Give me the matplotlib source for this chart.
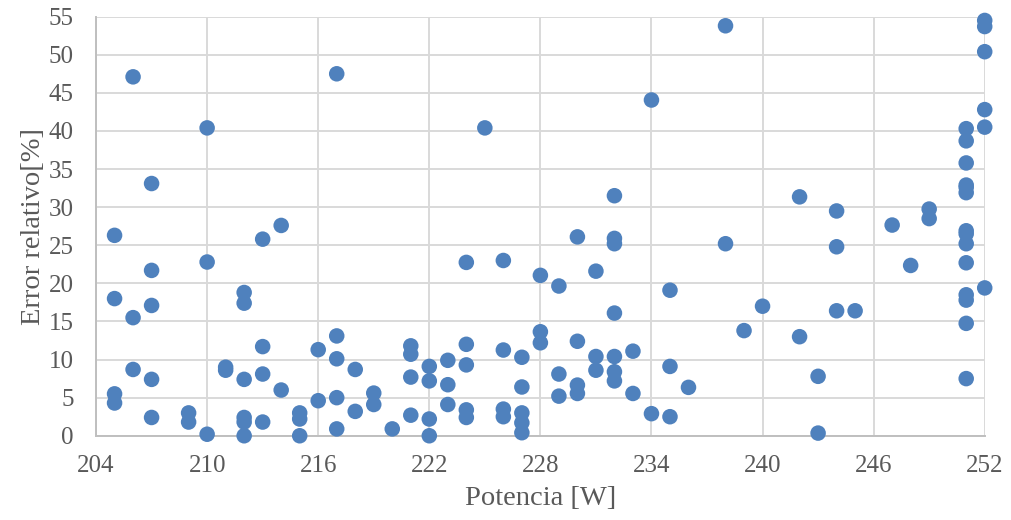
import matplotlib
matplotlib.use("Agg")
import matplotlib.pyplot as plt


# Power reading [W] and relative error [%] for each measurement
potencia = [
    205, 205, 205, 205, 206, 206, 206, 207, 207, 207, 207, 207,
    209, 209, 210, 210, 210, 211, 211, 212, 212, 212, 212, 212, 212,
    213, 213, 213, 213, 214, 214, 215, 215, 215,
    216, 216, 217, 217, 217, 217, 217, 218, 218, 219, 219, 220,
    221, 221, 221, 221, 222, 222, 222, 222, 223, 223, 223,
    224, 224, 224, 224, 224, 225, 226, 226, 226, 226,
    227, 227, 227, 227, 227, 228, 228, 228, 229, 229, 229,
    230, 230, 230, 230, 231, 231, 231, 232, 232, 232, 232, 232, 232, 232,
    233, 233, 234, 234, 235, 235, 235, 236, 238, 238, 239, 240,
    242, 242, 243, 243, 244, 244, 244, 245, 247, 248, 249, 249,
    251, 251, 251, 251, 251, 251, 251, 251, 251, 251, 251, 251, 251, 251,
    252, 252, 252, 252, 252, 252,
]
error_relativo = [
    26.3, 18.0, 5.5, 4.3, 47.1, 15.5, 8.7, 33.1, 21.7, 17.1, 7.4, 2.4,
    3.0, 1.8, 40.4, 22.8, 0.2, 9.0, 8.6, 18.8, 17.4, 7.4, 2.4, 1.8, 0.0,
    25.8, 11.7, 8.1, 1.8, 27.6, 6.0, 3.0, 2.2, 0.0,
    11.3, 4.6, 47.5, 13.1, 10.1, 5.0, 0.9, 8.7, 3.2, 5.6, 4.1, 0.9,
    11.8, 10.7, 7.7, 2.7, 9.1, 7.2, 2.2, 0.0, 9.9, 6.7, 4.1,
    22.75, 12.0, 9.3, 3.4, 2.4, 40.4, 23.0, 11.25, 3.5, 2.5,
    10.3, 6.4, 3.0, 1.7, 0.4, 21.05, 13.65, 12.2, 19.65, 8.1, 5.2,
    26.1, 12.4, 6.65, 5.55, 21.6, 10.4, 8.6, 31.5, 25.9, 25.2, 16.1, 10.4, 8.4, 7.2,
    11.1, 5.55, 44.06, 2.9, 19.1, 9.1, 2.5, 6.35, 53.8, 25.2, 13.8, 17.0,
    31.35, 13.0, 7.8, 0.35, 29.5, 24.8, 16.4, 16.4, 27.65, 22.35, 29.75, 28.5,
    40.3, 38.7, 35.8, 32.6, 31.9, 26.9, 26.5, 25.2, 22.7, 18.5, 17.8, 14.75, 7.5, 32.9,
    54.5, 53.7, 50.4, 42.8, 40.5, 19.4,
]

x_ticks = [204, 210, 216, 222, 228, 234, 240, 246, 252]
y_ticks = [0, 5, 10, 15, 20, 25, 30, 35, 40, 45, 50, 55]

plt.rcParams["font.family"] = ["Liberation Serif", "DejaVu Serif"]

fig = plt.figure(figsize=(10.11, 5.2), dpi=100)
ax = fig.add_axes([0.095, 0.162, 0.879, 0.806])

ax.scatter(
    potencia,
    error_relativo,
    s=125,
    color="#4F81BD",
    edgecolors="none",
    zorder=3,
    clip_on=False,
)

ax.set_xlim(204, 252)
ax.set_ylim(0, 55)
ax.set_xticks(x_ticks)
ax.set_yticks(y_ticks)

ax.grid(True, color="#D9D9D9", linewidth=1.4, zorder=0)
for side in ["top", "right"]:
    ax.spines[side].set_visible(False)
for side in ["bottom", "left"]:
    ax.spines[side].set_color("#BFBFBF")
    ax.spines[side].set_linewidth(1.4)

ax.tick_params(axis="both", length=0, labelsize=18, labelcolor="#595959")
ax.tick_params(axis="x", pad=14)
ax.tick_params(axis="y", pad=16)

ax.set_xlabel("Potencia [W]", fontsize=20.5, color="#595959", labelpad=6)
ax.set_ylabel("Error relativo[%]", fontsize=20.5, color="#595959", labelpad=2)

fig.savefig("out.png", dpi=100)
